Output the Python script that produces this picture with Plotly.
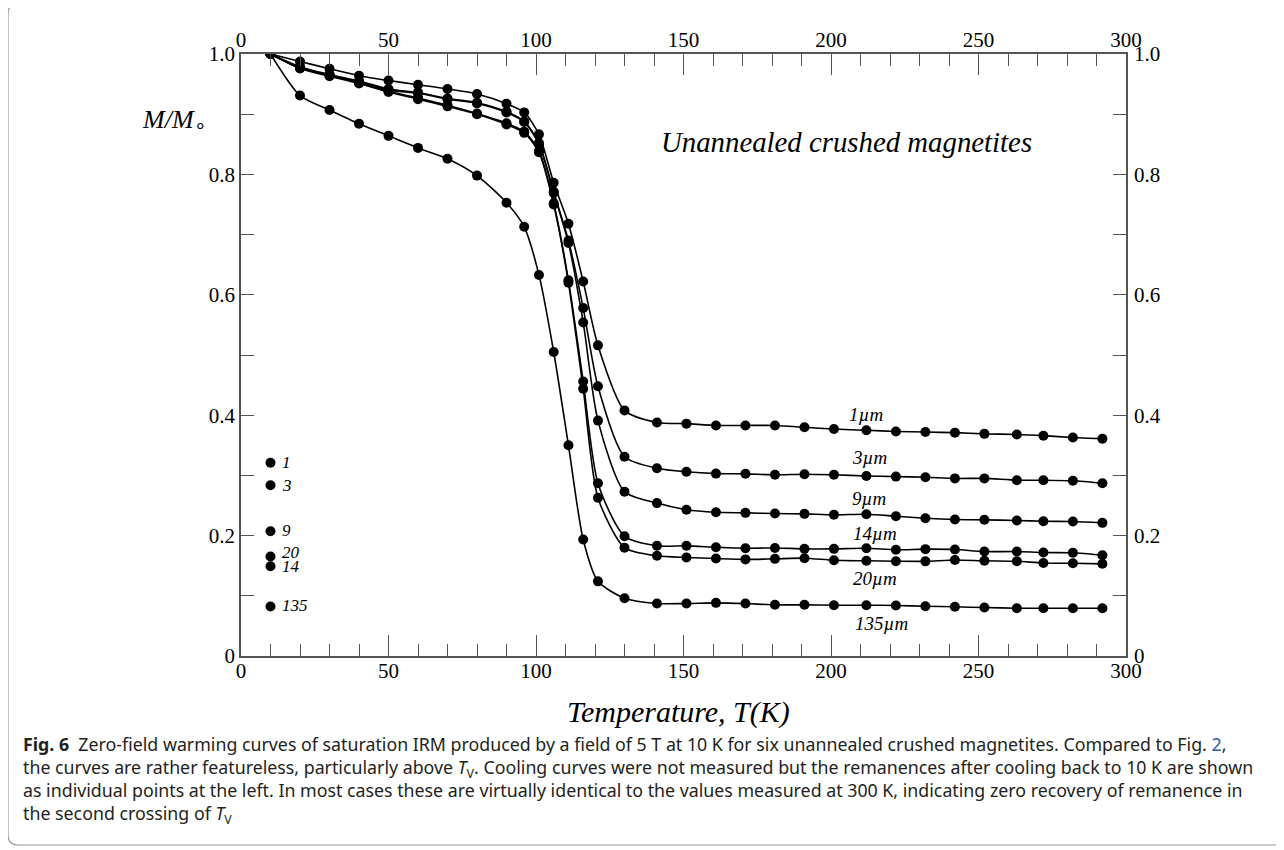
import plotly.graph_objects as go

# ---------------- data ----------------
temps = [10, 20, 30, 40, 50, 60, 70, 80, 90, 96, 101, 106, 111, 116, 121, 130,
         141, 151, 161, 171, 181, 191, 201, 212, 222, 232, 242, 252, 263, 272, 282, 292]

m_1um = [1.0, 0.9876, 0.9755, 0.964, 0.956, 0.949, 0.942, 0.9336, 0.9175, 0.903, 0.8665, 0.786, 0.718, 0.622, 0.516, 0.408,
         0.388, 0.386, 0.383, 0.383, 0.383, 0.380, 0.377, 0.375, 0.373, 0.372, 0.371, 0.369, 0.368, 0.366, 0.363, 0.361]
m_3um = [1.0, 0.979, 0.966, 0.955, 0.942, 0.936, 0.926, 0.919, 0.904, 0.888, 0.852, 0.771, 0.690, 0.578, 0.448, 0.331,
         0.312, 0.306, 0.303, 0.3026, 0.301, 0.302, 0.301, 0.299, 0.298, 0.297, 0.295, 0.295, 0.292, 0.292, 0.291, 0.287]
m_9um = [1.0, 0.977, 0.965, 0.954, 0.940, 0.935, 0.925, 0.918, 0.903, 0.887, 0.850, 0.769, 0.686, 0.554, 0.391, 0.273,
         0.254, 0.243, 0.2388, 0.2378, 0.2366, 0.2361, 0.2345, 0.2355, 0.2322, 0.2288, 0.2267, 0.2262, 0.2250, 0.2238, 0.2233, 0.2212]
m_14um = [1.0, 0.977, 0.965, 0.952, 0.938, 0.927, 0.915, 0.901, 0.885, 0.871, 0.839, 0.752, 0.624, 0.456, 0.287, 0.199,
          0.183, 0.183, 0.1807, 0.179, 0.1795, 0.178, 0.178, 0.179, 0.1764, 0.1775, 0.1769, 0.1735, 0.1735, 0.1719, 0.1715, 0.1674]
m_20um = [1.0, 0.976, 0.963, 0.951, 0.937, 0.925, 0.913, 0.900, 0.883, 0.869, 0.837, 0.750, 0.620, 0.444, 0.263, 0.180,
          0.1664, 0.1636, 0.1619, 0.1605, 0.1614, 0.1625, 0.1591, 0.1581, 0.1574, 0.1572, 0.1595, 0.1581, 0.1574, 0.1545, 0.1541, 0.1531]
m_135um = [1.0, 0.931, 0.907, 0.884, 0.864, 0.844, 0.826, 0.798, 0.753, 0.713, 0.633, 0.505, 0.350, 0.1935, 0.124, 0.096,
           0.0872, 0.0872, 0.0883, 0.0872, 0.085, 0.085, 0.0844, 0.0844, 0.0839, 0.0827, 0.0817, 0.0805, 0.0794, 0.0794, 0.0794, 0.0794]

series_names = ["1µm", "3µm", "9µm", "14µm", "20µm", "135µm"]
series_values = [m_1um, m_3um, m_9um, m_14um, m_20um, m_135um]
series_label_pos = [(212, 0.401), (213, 0.329), (213, 0.262), (215, 0.204), (215, 0.128), (217, 0.054)]

# remanence after cooling back to 10 K
cool_T = [10, 10, 10, 10, 10, 10]
cool_M = [0.321, 0.2837, 0.2073, 0.1652, 0.1491, 0.0822]
cool_labels = ["1", "3", "9", "20", "14", "135"]
cool_label_y = [0.321, 0.2837, 0.2093, 0.1720, 0.1491, 0.0837]

x_ticks = [0, 50, 100, 150, 200, 250, 300]
y_ticks = [0, 0.2, 0.4, 0.6, 0.8, 1.0]
y_ticktext = ["0", "0.2", "0.4", "0.6", "0.8", "1.0"]

# ---------------- layout geometry ----------------
# the page body adds an 8 px offset; figure sized to fit the viewport
OFF = 8
W, H = 1276, 842
L, R, T, B = 233, 158, 46, 194
PW, PH = W - L - R, H - T - B


def px_x(sx):
    """screen x (px) -> paper x"""
    return (sx - OFF - L) / PW


def px_y(sy):
    """screen y (px) -> paper y"""
    return (H - B - (sy - OFF)) / PH


SERIF = "Liberation Serif, Times New Roman, serif"
SANS = "Noto Sans, sans-serif"
AX = "#555555"

fig = go.Figure()

for name, vals in zip(series_names, series_values):
    fig.add_trace(go.Scatter(
        x=temps, y=vals, mode="lines+markers", name=name,
        line=dict(color="black", width=1.6, shape="spline", smoothing=0.7),
        marker=dict(color="black", size=10),
        showlegend=False, hoverinfo="skip"))

fig.add_trace(go.Scatter(
    x=cool_T, y=cool_M, mode="markers",
    marker=dict(color="black", size=10),
    showlegend=False, hoverinfo="skip"))

# empty trace to activate the secondary (top / right) axes
fig.add_trace(go.Scatter(x=[None], y=[None], xaxis="x2", yaxis="y2",
                         showlegend=False, hoverinfo="skip"))

tickfont = dict(family=SERIF, size=21, color="black")

common_x = dict(range=[0, 300], tickvals=x_ticks, ticks="inside", ticklen=21,
                tickwidth=1.4, tickcolor=AX, showline=True, linecolor=AX, linewidth=1.6,
                showgrid=False, zeroline=False, tickfont=tickfont,
                minor=dict(dtick=10, tick0=0, ticks="inside", ticklen=12, tickwidth=1.4,
                           tickcolor=AX, showgrid=False))
common_y = dict(range=[0, 1.0], tickvals=y_ticks, ticktext=y_ticktext, ticks="inside",
                ticklen=13, tickwidth=1.4, tickcolor=AX, showline=True, linecolor=AX,
                linewidth=1.6, showgrid=False, zeroline=False, tickfont=tickfont,
                minor=dict(dtick=0.1, tick0=0, ticks="inside", ticklen=13, tickwidth=1.4,
                           tickcolor=AX, showgrid=False))

fig.update_layout(
    width=W, height=H, autosize=False,
    margin=dict(l=L, r=R, t=T, b=B, pad=0),
    paper_bgcolor="white", plot_bgcolor="white",
    xaxis=dict(**common_x, side="bottom", ticklabelstandoff=-5),
    yaxis=dict(**common_y, side="left"),
    xaxis2=dict(**common_x, side="top", overlaying="x", anchor="y", ticklabelstandoff=-3),
    yaxis2=dict(**common_y, side="right", overlaying="y", anchor="x", ticklabelstandoff=2),
)

ann = []
# curve labels
for name, (lx, ly) in zip(series_names, series_label_pos):
    ann.append(dict(x=lx, y=ly, xref="x", yref="y", text="<i>" + name + "</i>",
                    showarrow=False, font=dict(family=SERIF, size=19, color="black"),
                    xanchor="center", yanchor="middle"))
# cooled point labels
for lab, ly in zip(cool_labels, cool_label_y):
    ann.append(dict(x=13.2, y=ly, xref="x", yref="y", text="<i>" + lab + "</i>",
                    showarrow=False, font=dict(family=SERIF, size=17, color="black"),
                    xanchor="left", yanchor="middle"))
# title inside plot
ann.append(dict(x=px_x(846), y=px_y(142), xref="paper", yref="paper",
                text="<i>Unannealed crushed magnetites</i>", showarrow=False,
                font=dict(family=SERIF, size=28.8, color="black"),
                xanchor="center", yanchor="middle"))
# y label
ann.append(dict(x=px_x(174), y=px_y(121), xref="paper", yref="paper",
                text="<i>M/M</i><sub><span style='font-size:20px'>∘</span></sub>", showarrow=False,
                font=dict(family=SERIF, size=26, color="black"),
                xanchor="center", yanchor="middle"))
# x label
ann.append(dict(x=px_x(678), y=px_y(712), xref="paper", yref="paper",
                text="<i>Temperature, T(K)</i>", showarrow=False,
                font=dict(family=SERIF, size=30, color="black"),
                xanchor="center", yanchor="middle"))

caption_lines = [
    "<b>Fig. 6</b>  Zero-field warming curves of saturation IRM produced by a field of 5 T at 10 K for six unannealed crushed magnetites. Compared to Fig. <span style='color:#2a5db0'>2</span>,",
    "the curves are rather featureless, particularly above <i>T</i><sub>V</sub>. Cooling curves were not measured but the remanences after cooling back to 10 K are shown",
    "as individual points at the left. In most cases these are virtually identical to the values measured at 300 K, indicating zero recovery of remanence in",
    "the second crossing of <i>T</i><sub>V</sub>",
]
ann.append(dict(x=px_x(21), y=px_y(780), xref="paper", yref="paper",
                text="<br>".join(caption_lines),
                showarrow=False, font=dict(family=SANS, size=17.8, color="#231f20"),
                xanchor="left", yanchor="middle", align="left"))

fig.update_layout(annotations=ann)

# border frame (rounded on the left)
x0, x1, y0, y1, r = px_x(8), px_x(1290), px_y(4), px_y(845), 10
rx, ry = r / PW, r / PH
path = (f"M {x1},{y0} L {x0 + rx},{y0} Q {x0},{y0} {x0},{y0 - ry} "
        f"L {x0},{y1 + ry} Q {x0},{y1} {x0 + rx},{y1} L {x1},{y1}")
fig.add_shape(type="path", path=path, xref="paper", yref="paper",
              line=dict(color="#9a9a9a", width=1.2), layer="above")

fig.write_html("out.html")
